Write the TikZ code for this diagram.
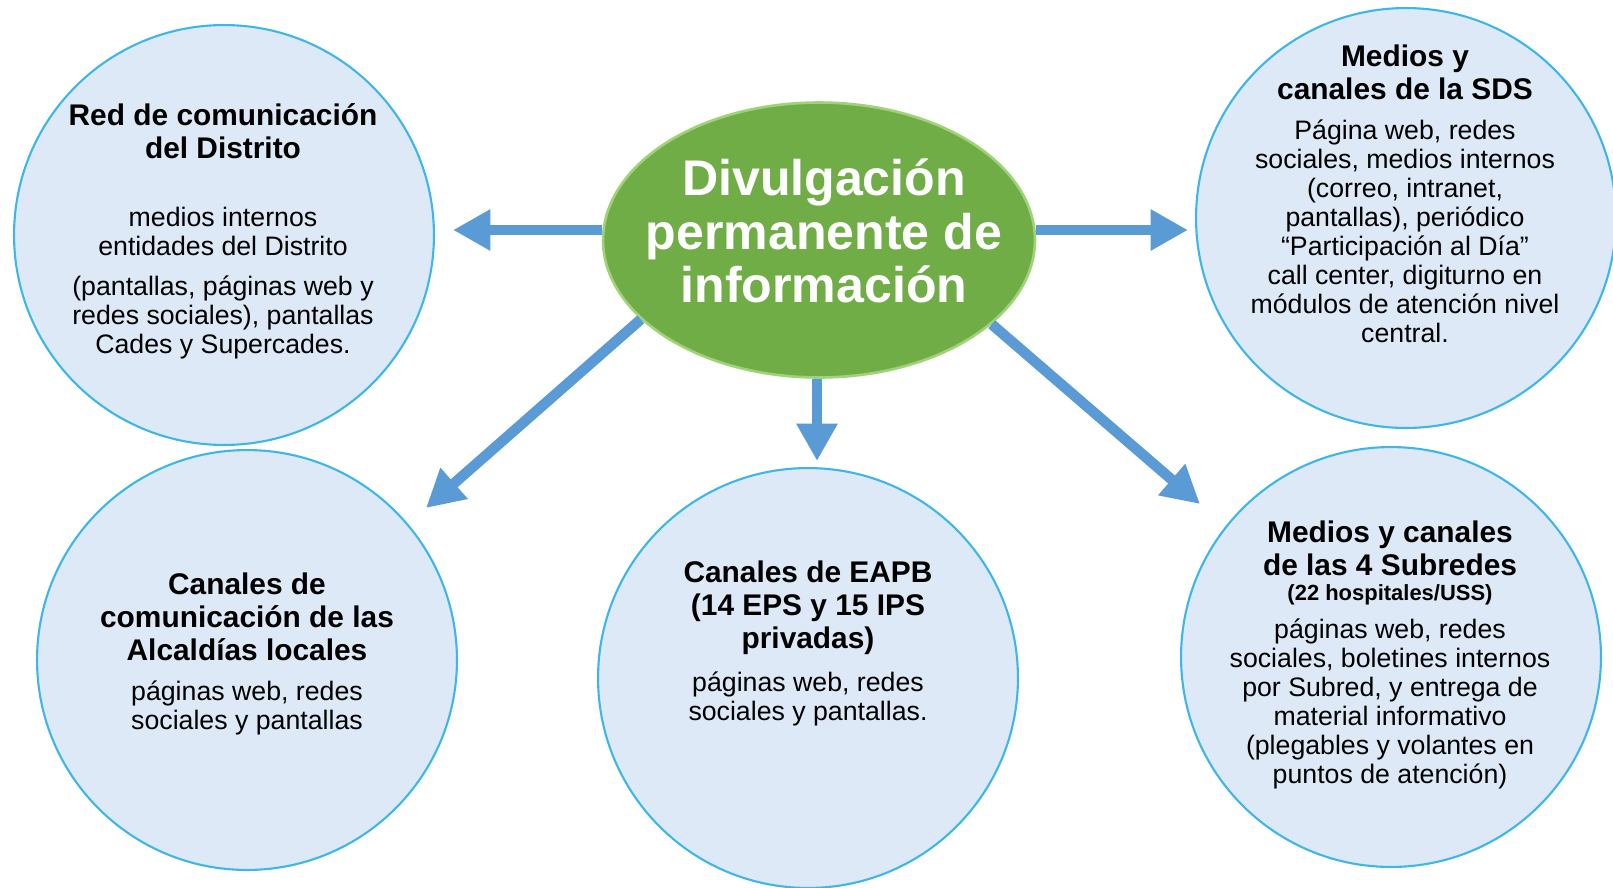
\documentclass[tikz,border=0pt]{standalone}
\usepackage{fontspec}
\setmainfont{Liberation Sans}
\usepackage{xcolor}
\usepackage{tikz}
\usetikzlibrary{shapes,arrows.meta,positioning}

\definecolor{circfill}{RGB}{221,233,246}
\definecolor{circline}{RGB}{62,183,232}
\definecolor{arrowblue}{RGB}{91,155,213}
\definecolor{divgreen}{RGB}{112,173,71}
\definecolor{rimgreen}{RGB}{160,210,120}

\begin{document}
\begin{tikzpicture}[x=0.02cm, y=-0.02cm,
    circ/.style={circle, draw=circline, line width=1.2pt, fill=circfill, minimum size=8.4cm, inner sep=0pt},
    title/.style={align=center, font=\fontsize{17}{18.8}\selectfont\bfseries},
    subtitle/.style={align=center, font=\fontsize{12.5}{14}\selectfont\bfseries},
    body/.style={align=center, font=\fontsize{15.2}{16.5}\selectfont},
    arrow/.style={-{Triangle[length=0.75cm, width=0.78cm]}, line width=0.21cm, arrowblue}
]
    \useasboundingbox (0,0) rectangle (1613,887);

    % Outer circles
    \node[circ] (red) at (224,235) {};
    \node[circ] (sds) at (1406,218) {};
    \node[circ] (alc) at (247,660) {};
    \node[circ] (eapb) at (808,678) {};
    \node[circ] (sub) at (1391,657) {};

    % Central node
    \node[ellipse, fill=divgreen, draw=rimgreen, line width=1.5pt, minimum width=8.64cm, minimum height=5.5cm, inner sep=0pt] (div) at (819,240) {};
    \node[text=white, align=center, font=\fontsize{28.5}{30.5}\selectfont\bfseries] (divtxt) at (824,231) {Divulgación\\permanente de\\información};

    % Texts in the circles
    \node[title] (redtitle) at (223,131) {Red de comunicación\\del Distrito};
    \node[body] (redbody) at (223,283) {medios internos\\entidades del Distrito\\[0.21cm](pantallas, páginas web y\\redes sociales), pantallas\\Cades y Supercades.};

    \node[title] (sdstitle) at (1405,72) {Medios y\\canales de la SDS};
    \node[body] (sdsbody) at (1405,231) {Página web, redes\\sociales, medios internos\\(correo, intranet,\\pantallas), periódico\\“Participación al Día”\\call center, digiturno en\\módulos de atención nivel\\central.};

    \node[title] (alctitle) at (247,617) {Canales de\\comunicación de las\\Alcaldías locales};
    \node[body] (alcbody) at (247,708) {páginas web, redes\\sociales y pantallas};

    \node[title] (eapbtitle) at (808,608) {Canales de EAPB\\(14 EPS y 15 IPS\\privadas)};
    \node[body] (eapbbody) at (808,699) {páginas web, redes\\sociales y pantallas.};

    \node[title] (subtitle) at (1390,548) {Medios y canales\\de las 4 Subredes};
    \node[subtitle] (subnote) at (1390,595) {(22 hospitales/USS)};
    \node[body] (subbody) at (1390,704) {páginas web, redes\\sociales, boletines internos\\por Subred, y entrega de\\material informativo\\(plegables y volantes en\\puntos de atención)};

    % Arrow tips
    \coordinate (tipL) at (453,230);
    \coordinate (tipR) at (1188,230);
    \coordinate (tipD) at (817,461);
    \coordinate (tipDL) at (426,508);
    \coordinate (tipDR) at (1200,504);

    % Arrows
    \draw[arrow] (tipL -| div.west) -- (tipL);
    \draw[arrow] (tipR -| div.east) -- (tipR);
    \draw[arrow] (tipD |- div.south) -- (tipD);
    \draw[arrow] (div.204) -- (tipDL);
    \draw[arrow] (div.334) -- (tipDR);
\end{tikzpicture}
\end{document}
